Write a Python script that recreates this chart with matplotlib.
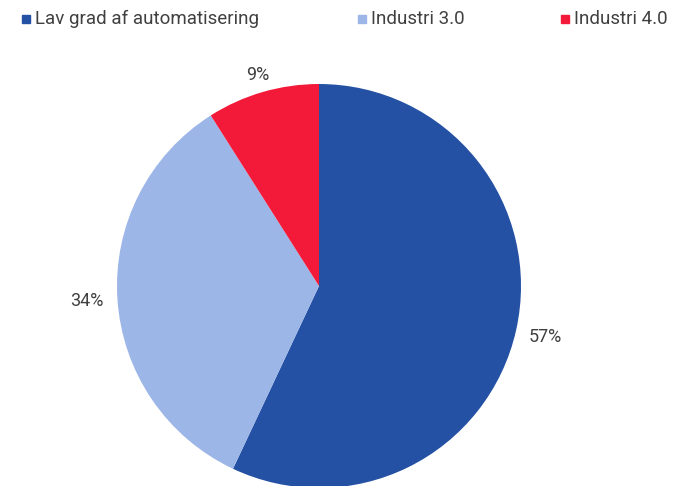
import matplotlib
matplotlib.use("Agg")
import matplotlib.pyplot as plt
from matplotlib.patches import Rectangle

# data
categories = ["Lav grad af automatisering", "Industri 3.0", "Industri 4.0"]
shares = [57, 34, 9]
colors = ["#2451A4", "#9DB6E8", "#F21A38"]

plt.rcParams["font.family"] = ["Roboto", "DejaVu Sans"]
text_color = "#404040"

fig = plt.figure(figsize=(6.97, 4.86), dpi=100)
W, H = 697, 486

# pie axes placed so the circle is centred at (319, 286) px with r=202 px
ax = fig.add_axes([117 / W, -2 / H, 404 / W, 404 / H])
wedges, _, autotexts = ax.pie(
    shares, colors=colors, startangle=90, counterclock=False,
    radius=1, autopct=lambda p: f"{p:.0f}%", pctdistance=1.15,
    textprops={"color": text_color, "fontsize": 13})
# small slice label sits a little closer to the pie
x, y = autotexts[2].get_position()
autotexts[2].set_position((x * 1.09 / 1.15, y * 1.09 / 1.15))
ax.set_xlim(-1, 1)
ax.set_ylim(-1, 1)
ax.set_aspect("equal")
ax.axis("off")

# legend along the top
legend_x = [22, 358, 561]
for x, lab, c in zip(legend_x, categories, colors):
    fig.patches.append(Rectangle((x / W, 1 - 23 / H), 8 / W, 8 / H,
                                 transform=fig.transFigure, color=c))
    fig.text((x + 13) / W, 1 - 19 / H, lab, color=text_color,
             fontsize=13.5, va="center", ha="left")

fig.savefig("out.png", dpi=100)
plt.close(fig)
